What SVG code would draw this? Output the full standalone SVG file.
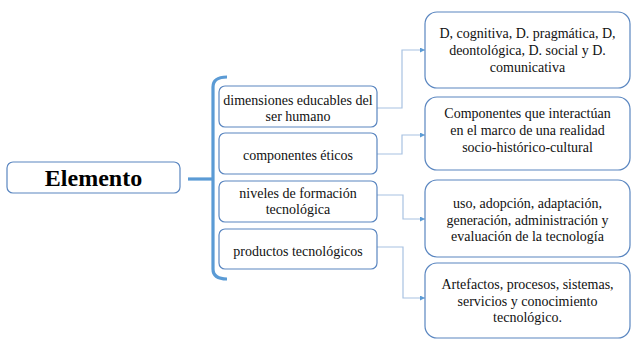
<svg xmlns="http://www.w3.org/2000/svg" width="637" height="344" viewBox="0 0 637 344">
<style>
.box{fill:#fff;stroke:#5a86c0;stroke-width:1.2}
.c{fill:none;stroke:#a8c2e2;stroke-width:1.2}
.brace{fill:none;stroke:#5b9bd5;stroke-width:3.2}
</style>
<defs>
<marker id="a" viewBox="0 0 6 6" refX="6" refY="3" markerWidth="5" markerHeight="5" orient="auto" markerUnits="userSpaceOnUse">
<path d="M0,0 L6,3 L0,6 z" fill="#5b9bd5"/>
</marker>
</defs>
<g id="connectors">
<path class="brace" d="M227,77 Q213,77 213,87 V269 Q213,279 227,279"/>
<path class="brace" d="M188,179 H213"/>
<path class="c" d="M377,108 H402 V50 H425" marker-end="url(#a)"/>
<path class="c" d="M377,154 H402 V135 H425" marker-end="url(#a)"/>
<path class="c" d="M377,195 H403 V219 H425" marker-end="url(#a)"/>
<path class="c" d="M377,247 H403 V298 H425" marker-end="url(#a)"/>
</g>
<g id="elemento">
<rect class="box" x="7" y="162" width="173" height="31" rx="6"/>
<text x="93.5" y="186" font-family="Liberation Serif" font-size="24" font-weight="bold" text-anchor="middle" fill="#000">Elemento</text>
</g>
<g id="n1" font-family="Liberation Serif" font-size="14" text-anchor="middle" fill="#111">
<rect class="box" x="219" y="86" width="158" height="41" rx="6"/>
<text x="298" y="105">dimensiones educables del</text>
<text x="298" y="121">ser humano</text>
</g>
<g id="n2" font-family="Liberation Serif" font-size="14" text-anchor="middle" fill="#111">
<rect class="box" x="219" y="133" width="158" height="41" rx="6"/>
<text x="298" y="160">componentes éticos</text>
</g>
<g id="n3" font-family="Liberation Serif" font-size="14" text-anchor="middle" fill="#111">
<rect class="box" x="219" y="181" width="158" height="41" rx="6"/>
<text x="298" y="198">niveles de formación</text>
<text x="298" y="214">tecnológica</text>
</g>
<g id="n4" font-family="Liberation Serif" font-size="14" text-anchor="middle" fill="#111">
<rect class="box" x="219" y="229" width="158" height="40" rx="6"/>
<text x="298" y="256">productos tecnológicos</text>
</g>
<g id="r1" font-family="Liberation Serif" font-size="14" text-anchor="middle" fill="#111">
<rect class="box" x="425" y="12" width="205" height="76" rx="12"/>
<text x="527.5" y="38">D, cognitiva, D. pragmática, D,</text>
<text x="527.5" y="55">deontológica, D. social y D.</text>
<text x="527.5" y="72">comunicativa</text>
</g>
<g id="r2" font-family="Liberation Serif" font-size="14" text-anchor="middle" fill="#111">
<rect class="box" x="425" y="97" width="205" height="73" rx="12"/>
<text x="527.5" y="118">Componentes que interactúan</text>
<text x="527.5" y="135">en el marco de una realidad</text>
<text x="527.5" y="152">socio-histórico-cultural</text>
</g>
<g id="r3" font-family="Liberation Serif" font-size="14" text-anchor="middle" fill="#111">
<rect class="box" x="425" y="180" width="205" height="77" rx="12"/>
<text x="527.5" y="208">uso, adopción, adaptación,</text>
<text x="527.5" y="225">generación, administración y</text>
<text x="527.5" y="241">evaluación de la tecnología</text>
</g>
<g id="r4" font-family="Liberation Serif" font-size="14" text-anchor="middle" fill="#111">
<rect class="box" x="425" y="263" width="205" height="75" rx="12"/>
<text x="527.5" y="289">Artefactos, procesos, sistemas,</text>
<text x="527.5" y="306">servicios y conocimiento</text>
<text x="527.5" y="322">tecnológico.</text>
</g>
</svg>
